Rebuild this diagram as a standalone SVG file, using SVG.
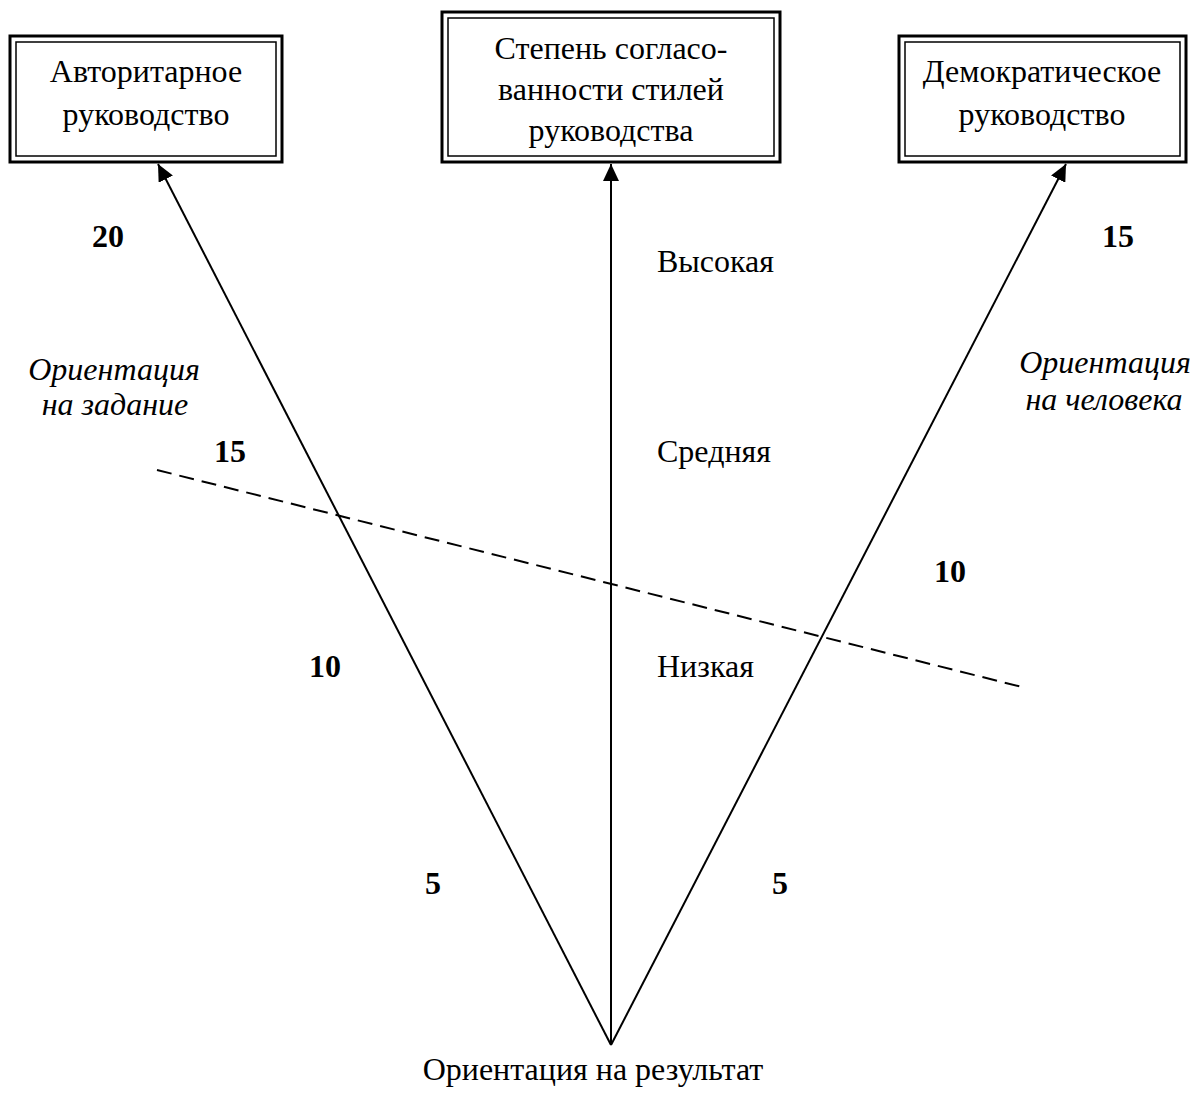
<svg xmlns="http://www.w3.org/2000/svg" width="1194" height="1097" viewBox="0 0 1194 1097">
<style>
text{font-family:"Liberation Serif","Times New Roman",serif;font-size:32px;fill:#000}
.c{text-anchor:middle}
.b{font-weight:bold}
.i{font-style:italic}
.outer{fill:#fff;stroke:#000;stroke-width:3}
.inner{fill:none;stroke:#000;stroke-width:1.5}
.ln{stroke:#000;stroke-width:2;fill:none}
</style>
<defs>
<marker id="ah" viewBox="0 0 17 16" refX="17" refY="8" markerWidth="17" markerHeight="16" markerUnits="userSpaceOnUse" orient="auto">
<path d="M0,0 L17,8 L0,16 z" fill="#000"/>
</marker>
</defs>
<rect width="1194" height="1097" fill="#fff"/>
<g id="connectors">
<line class="ln" x1="611" y1="1045" x2="158" y2="164" marker-end="url(#ah)"/>
<line class="ln" x1="611" y1="1045" x2="611" y2="164" marker-end="url(#ah)"/>
<line class="ln" x1="611" y1="1045" x2="1066" y2="164" marker-end="url(#ah)"/>
<line x1="157" y1="470" x2="1022" y2="687" stroke="#000" stroke-width="2" stroke-dasharray="15,8"/>
</g>
<g id="node-auth">
<rect class="outer" x="10" y="36" width="272" height="126"/>
<rect class="inner" x="16" y="42" width="260" height="114"/>
<text class="c" x="146" y="82">Авторитарное</text>
<text class="c" x="146" y="125">руководство</text>
</g>
<g id="node-degree">
<rect class="outer" x="442" y="12" width="338" height="150"/>
<rect class="inner" x="448" y="18" width="326" height="138"/>
<text class="c" x="611" y="59">Степень согласо-</text>
<text class="c" x="611" y="100">ванности стилей</text>
<text class="c" x="611" y="141">руководства</text>
</g>
<g id="node-dem">
<rect class="outer" x="899" y="36" width="287" height="126"/>
<rect class="inner" x="905" y="42" width="275" height="114"/>
<text class="c" x="1042" y="82">Демократическое</text>
<text class="c" x="1042" y="125">руководство</text>
</g>
<g id="labels">
<text class="b c" x="108" y="247">20</text>
<text class="b c" x="1118" y="247">15</text>
<text class="b c" x="230" y="462">15</text>
<text class="b c" x="950" y="582">10</text>
<text class="b c" x="325" y="677">10</text>
<text class="b c" x="433" y="894">5</text>
<text class="b c" x="780" y="894">5</text>
<text x="657" y="272">Высокая</text>
<text x="657" y="462">Средняя</text>
<text x="657" y="677">Низкая</text>
<text class="i c" x="114" y="380">Ориентация</text>
<text class="i c" x="115" y="415">на задание</text>
<text class="i c" x="1105" y="373">Ориентация</text>
<text class="i c" x="1104" y="410">на человека</text>
<text class="c" x="593" y="1080">Ориентация на результат</text>
</g>
</svg>
